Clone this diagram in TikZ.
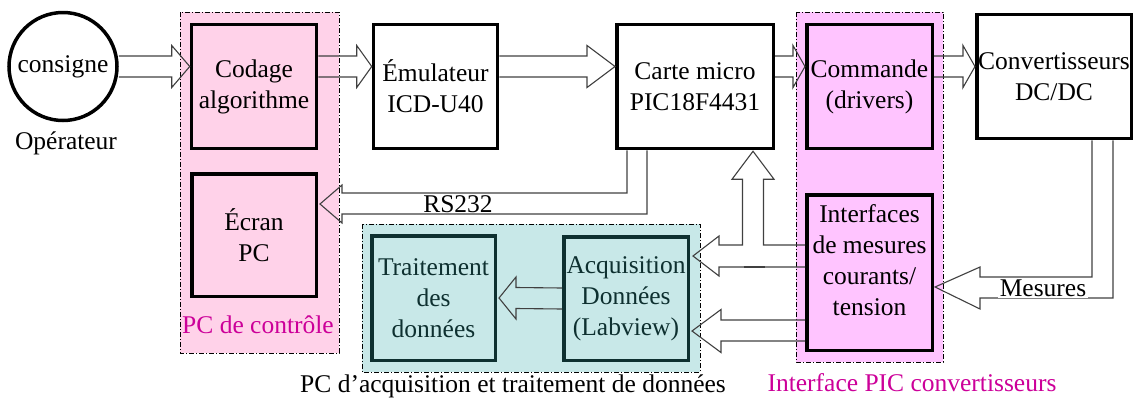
\documentclass[tikz,border=0pt]{standalone}
\usepackage{fontspec}
\setmainfont{Liberation Serif}
\usetikzlibrary{calc}
\definecolor{pinkA}{HTML}{FFD2E9}
\definecolor{pinkB}{HTML}{FFC4FF}
\definecolor{cyanA}{HTML}{C8E8E8}
\definecolor{tealD}{HTML}{0E3030}
\definecolor{magT}{HTML}{CC0099}
\definecolor{arrowC}{HTML}{404040}
\begin{document}
\begin{tikzpicture}[x=1pt,y=-1pt,
  every node/.style={font=\fontsize{25.5}{31}\selectfont, inner sep=1pt},
  blockbox/.style={draw=black, line width=3.5pt, align=center, rectangle},
  whitebox/.style={blockbox, fill=white},
  pinkbox/.style={blockbox, fill=pinkA},
  violetbox/.style={blockbox, fill=pinkB},
  tealbox/.style={blockbox, draw=tealD, fill=cyanA, text=tealD},
  region/.style={draw=black, line width=0.8pt, dash pattern=on 5pt off 2pt on 1pt off 2pt},
  blk/.style={draw=arrowC, line width=1.1pt, line join=miter},
  grouplabel/.style={text=magT}]
\useasboundingbox (0,0) rectangle (1136,397);

% regions
\path[region, fill=pinkA] (180,12) rectangle (339,353);
\path[region, fill=pinkB] (796,12) rectangle (943,362);
\path[region, fill=cyanA] (362,224) rectangle (700,372);

% nodes
\node[draw, circle, line width=3.5pt, minimum size=108pt, inner sep=0pt] (consigne) at (63,66.5) {consigne};
\node (operateur) at (66,143) {Opérateur};
\node[pinkbox, minimum width=125pt, minimum height=124pt] (codage) at (254,86.5) {Codage\\algorithme};
\node[whitebox, minimum width=124pt, minimum height=124pt] (emul) at (435.5,86.5) {Émulateur\\ICD-U40};
\node[whitebox, minimum width=156.5pt, minimum height=124pt] (carte) at (695,86.5) {Carte micro\\PIC18F4431};
\node[violetbox, minimum width=125.5pt, minimum height=124pt] (commande) at (869.5,86.5) {Commande\\(drivers)};
\node[whitebox, minimum width=154.5pt, minimum height=124pt, inner sep=0pt] (convert) at (1054,76.5) {Convertisseurs\\DC/DC};
\node[pinkbox, minimum width=124.5pt, minimum height=122.5pt] (ecran) at (254,235) {Écran\\PC};
\node[tealbox, minimum width=123.5pt, minimum height=124.5pt] (traitement) at (433.5,298) {Traitement\\des\\données};
\node[tealbox, minimum width=124.5pt, minimum height=123.5pt] (acq) at (626,298.5) {Acquisition\\Données\\(Labview)};
\node[violetbox, minimum width=125.5pt, minimum height=155.5pt] (interfaces) at (869.5,272.5) {Interfaces\\de mesures\\courants/\\tension\\[-6pt]\mbox{}};

% group labels
\node[grouplabel] (lblpc) at (258,325) {PC de contrôle};
\node[grouplabel] (lblpic) at (912,383) {Interface PIC convertisseurs};
\node (lblacq) at (513,386) {PC d’acquisition et traitement de données};

% top row block arrows
\coordinate (t1) at (codage.west |- consigne.center);
\coordinate (s2) at (codage.east |- consigne.center);
\coordinate (t2) at (emul.west |- consigne.center);
\coordinate (s3) at (emul.east |- consigne.center);
\coordinate (t3) at (carte.west |- consigne.center);
\coordinate (s4) at (carte.east |- consigne.center);
\coordinate (t4) at (commande.west |- consigne.center);
\coordinate (s5) at (commande.east |- consigne.center);
\coordinate (t5) at (convert.west |- consigne.center);

\draw[blk] ($(consigne.east)+(0,-10.5)$) -- ($(t1)+(-18,-10.5)$) -- ($(t1)+(-18,-21)$) -- (t1) -- ($(t1)+(-18,21)$) -- ($(t1)+(-18,10.5)$) -- ($(consigne.east)+(0,10.5)$);
\draw[blk] ($(s2)+(0,-10.5)$) -- ($(t2)+(-15,-10.5)$) -- ($(t2)+(-15,-21)$) -- (t2) -- ($(t2)+(-15,21)$) -- ($(t2)+(-15,10.5)$) -- ($(s2)+(0,10.5)$);
\draw[blk] ($(s3)+(0,-10.5)$) -- ($(t3)+(-28,-10.5)$) -- ($(t3)+(-28,-21)$) -- (t3) -- ($(t3)+(-28,21)$) -- ($(t3)+(-28,10.5)$) -- ($(s3)+(0,10.5)$);
\draw[blk] ($(s4)+(0,-10.5)$) -- ($(t4)+(-12,-10.5)$) -- ($(t4)+(-12,-21)$) -- (t4) -- ($(t4)+(-12,21)$) -- ($(t4)+(-12,10.5)$) -- ($(s4)+(0,10.5)$);
\draw[blk] ($(s5)+(0,-10.5)$) -- ($(t5)+(-12,-10.5)$) -- ($(t5)+(-12,-21)$) -- (t5) -- ($(t5)+(-12,21)$) -- ($(t5)+(-12,10.5)$) -- ($(s5)+(0,10.5)$);

% RS232: carte -> ecran
\coordinate (rsT) at ($(ecran.east)+(2,-31)$);
\draw[blk] ($(carte.south)+(-48,0)$) |- ($(rsT)+(22,10)$) -- ($(rsT)+(22,19)$) -- (rsT) -- ($(rsT)+(22,-19)$) -- ($(rsT)+(22,-11)$) -| ($(carte.south)+(-68,0)$);
\node (rs) at (458,204) {RS232};

% interfaces -> carte (up) and -> acquisition
\coordinate (upT) at ($(carte.south)+(58,1)$);
\coordinate (aqT) at ($(acq.east)+(3,-42.5)$);
\draw[blk] ($(interfaces.west)+(0,-27.5)$) -| ($(upT)+(10.5,28)$) -- ($(upT)+(21,28)$) -- (upT) -- ($(upT)+(-21,28)$) -- ($(upT)+(-10.5,28)$) |- ($(aqT)+(26,-11)$) -- ($(aqT)+(26,-20)$) -- (aqT) -- ($(aqT)+(26,20)$) -- ($(aqT)+(26,11)$) -- ($(interfaces.west)+(0,-5.5)$);
\draw[arrowC, line width=2.2pt] ($(aqT)+(50.5,11)$) -- ($(aqT)+(71.5,11)$);

\coordinate (aqT2) at ($(acq.east)+(2,32.5)$);
\draw[blk] ($(interfaces.west)+(0,47.5)$) -- ($(aqT2)+(29,-11)$) -- ($(aqT2)+(29,-21.5)$) -- (aqT2) -- ($(aqT2)+(29,21.5)$) -- ($(aqT2)+(29,10)$) -- ($(interfaces.west)+(0,68.5)$);

% Mesures: convert -> interfaces
\coordinate (mT) at ($(interfaces.east)+(1,14.5)$);
\draw[blk] ($(convert.south)+(38,0)$) |- ($(mT)+(45,-10)$) -- ($(mT)+(45,-20)$) -- (mT) -- ($(mT)+(45,22)$) -- ($(mT)+(45,11)$) -| ($(convert.south)+(59,0)$);
\node[fill=white, inner sep=1.5pt] (mes) at (1043,288) {Mesures};

% acquisition -> traitement
\coordinate (tT) at ($(traitement.east)+(2,0)$);
\draw[blk] ($(acq.west)+(0,-10.5)$) -- ($(tT)+(17,-10.5)$) -- ($(tT)+(17,-21)$) -- (tT) -- ($(tT)+(17,21)$) -- ($(tT)+(17,10.5)$) -- ($(acq.west)+(0,10.5)$);
\end{tikzpicture}
\end{document}
